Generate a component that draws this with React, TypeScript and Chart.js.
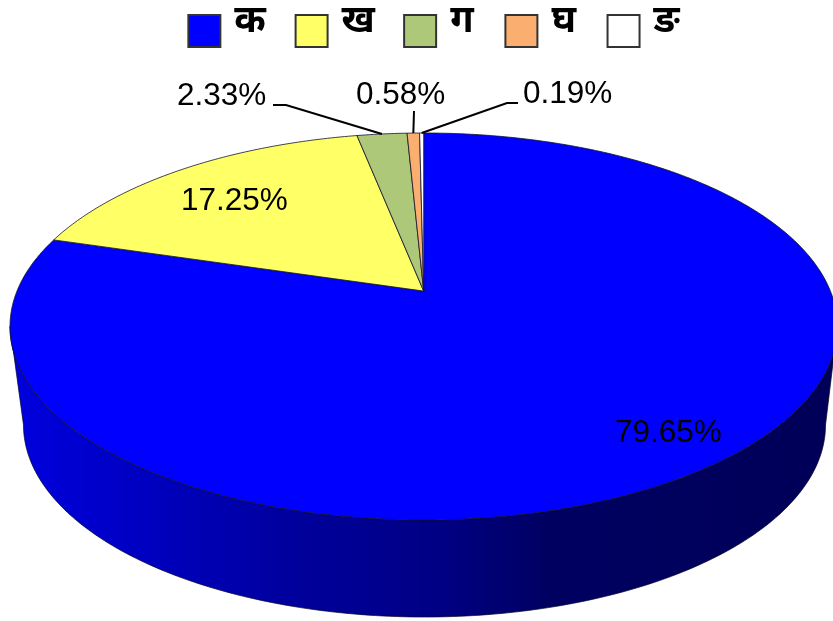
import React, { useEffect, useRef } from "react";
import { Chart, registerables } from "chart.js";

Chart.register(...registerables);

const categories = ["क", "ख", "ग", "घ", "ङ"];
const shares = [79.65, 17.25, 2.33, 0.58, 0.19];
const fills = ["#0000FF", "#FFFF66", "#ADC878", "#FAAE6F", "#FFFFFF"];
const labelFont = '31.5px "Liberation Sans", Arial, sans-serif';
const legendFont = 'bold 38px "Noto Sans", "Liberation Sans", sans-serif';

// top face ellipse and lower rim ellipse on the canvas
const top = { cx: 423.7, cy: 326.5, rx: 413.7, ry: 193.5 };
const bottom = { cx: 424.5, cy: 425, rx: 401, ry: 192 };
const tilt = 0.183; // perspective shift of the pie centre

const project = (angle: number, r = 1) => {
  const x = Math.cos(angle) * r;
  const y = -Math.sin(angle) * r; // up is positive
  const d = 1 + tilt * y;
  const px = (x * Math.sqrt(1 - tilt * tilt)) / d;
  const py = (y + tilt) / d;
  return { x: top.cx + px * top.rx, y: top.cy - py * top.ry };
};

const pie3d = {
  id: "pie3d",
  beforeDatasetsDraw(chart: any) {
    const ctx: CanvasRenderingContext2D = chart.ctx;
    const arcs = chart.getDatasetMeta(0).data;
    ctx.save();

    // side wall
    const grad = ctx.createLinearGradient(top.cx - top.rx, 0, top.cx + top.rx, 0);
    grad.addColorStop(0, "#0000E0");
    grad.addColorStop(0.35, "#00009C");
    grad.addColorStop(0.52, "#000084");
    grad.addColorStop(0.65, "#000062");
    grad.addColorStop(1, "#000058");
    ctx.beginPath();
    for (let i = 0; i <= 180; i++) {
      const a = (i / 180) * Math.PI;
      const x = top.cx + Math.cos(a) * top.rx;
      const y = top.cy + Math.sin(a) * top.ry;
      i === 0 ? ctx.moveTo(x, y) : ctx.lineTo(x, y);
    }
    for (let i = 180; i >= 0; i--) {
      const a = (i / 180) * Math.PI;
      ctx.lineTo(bottom.cx + Math.cos(a) * bottom.rx, bottom.cy + Math.sin(a) * bottom.ry);
    }
    ctx.closePath();
    ctx.fillStyle = grad;
    ctx.fill();
    ctx.lineWidth = 1;
    ctx.strokeStyle = "rgba(0,0,40,0.7)";
    ctx.stroke();

    // top slices
    arcs.forEach((arc: any, i: number) => {
      const start = arc.startAngle;
      const end = arc.endAngle;
      const steps = Math.max(4, Math.ceil((end - start) * 80));
      const c = project(0, 0);
      ctx.beginPath();
      ctx.moveTo(c.x, c.y);
      for (let s = 0; s <= steps; s++) {
        const p = project(start + ((end - start) * s) / steps);
        ctx.lineTo(p.x, p.y);
      }
      ctx.closePath();
      ctx.fillStyle = fills[i];
      ctx.fill();
      ctx.lineWidth = 1;
      ctx.strokeStyle = "rgba(20,20,40,0.8)";
      ctx.stroke();
    });

    // data labels
    const mid = (i: number) => (arcs[i].startAngle + arcs[i].endAngle) / 2;
    const text = (i: number) => `${shares[i].toFixed(2)}%`;
    ctx.font = labelFont;
    ctx.fillStyle = "#000";
    ctx.textAlign = "left";
    ctx.textBaseline = "middle";
    ctx.fillText(text(0), 615, 433);
    ctx.fillText(text(1), 181, 201);
    ctx.fillText(text(2), 177, 96);
    ctx.fillText(text(3), 356, 95);
    ctx.fillText(text(4), 523, 94);

    // leader lines
    ctx.strokeStyle = "#000";
    ctx.lineWidth = 2;
    const leaders: [number, number[][]][] = [
      [2, [[273, 105], [286, 105]]],
      [3, [[414, 111]]],
      [4, [[518, 103], [507, 103]]],
    ];
    leaders.forEach(([i, pts]) => {
      const rim = project(mid(i));
      ctx.beginPath();
      pts.forEach(([x, y], k) => (k === 0 ? ctx.moveTo(x, y) : ctx.lineTo(x, y)));
      ctx.lineTo(rim.x, rim.y);
      ctx.stroke();
    });
    ctx.restore();
    return false;
  },
  afterDraw(chart: any) {
    // legend captions sit higher and larger than the library places them
    const ctx: CanvasRenderingContext2D = chart.ctx;
    const boxes = chart.legend.legendHitBoxes;
    ctx.save();
    ctx.font = legendFont;
    ctx.fillStyle = "#000";
    ctx.textAlign = "left";
    ctx.textBaseline = "alphabetic";
    categories.forEach((c, i) => ctx.fillText(c, boxes[i].left + 46, 32));
    ctx.restore();
  },
};

export default function App() {
  const ref = useRef<HTMLCanvasElement>(null);
  useEffect(() => {
    document.body.style.margin = "0";
    const chart = new Chart(ref.current!, {
      type: "pie",
      data: {
        labels: categories,
        datasets: [
          {
            data: shares,
            backgroundColor: fills,
            borderColor: "#333",
            borderWidth: 2,
          },
        ],
      },
      options: {
        responsive: false,
        animation: false,
        devicePixelRatio: 1,
        layout: { padding: { top: -23, left: 28 } },
        plugins: {
          tooltip: { enabled: false },
          legend: {
            position: "top",
            labels: {
              boxWidth: 32,
              boxHeight: 32,
              padding: 38,
              color: "rgba(0,0,0,0)",
              font: { size: 28, weight: "bold", family: '"Noto Sans", "Liberation Sans", sans-serif' },
            },
          },
        },
      },
      plugins: [pie3d],
    });
    return () => chart.destroy();
  }, []);
  return (
    <div style={{ width: 833, height: 621 }}>
      <canvas ref={ref} width={833} height={621} style={{ display: "block" }} />
    </div>
  );
}
